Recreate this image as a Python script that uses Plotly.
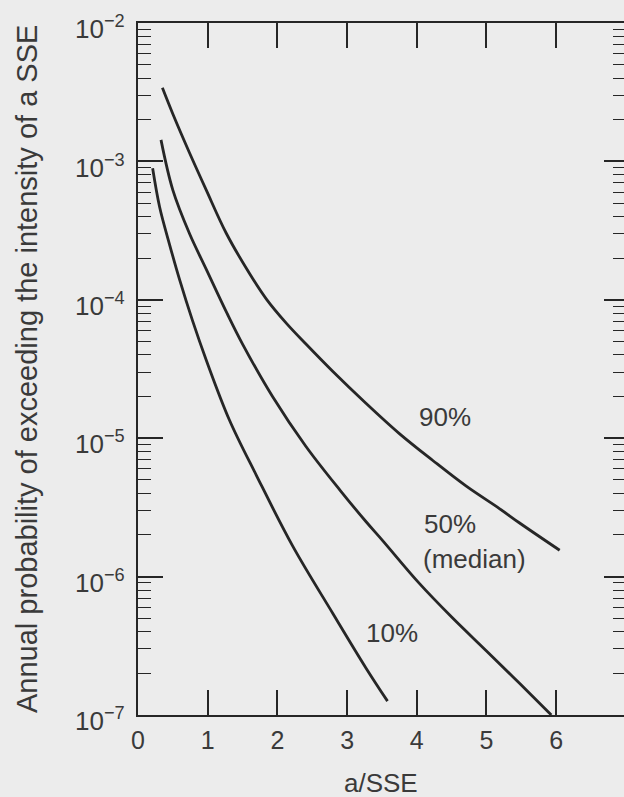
import plotly.graph_objects as go

# ---- data ----
x_90 = [0.35, 0.50, 0.74, 0.98, 1.27, 1.60, 1.85, 2.13, 2.41, 2.80, 3.27, 3.75, 4.23, 4.71, 5.19, 5.47, 6.05]
y_90 = [3.4e-3, 2.2e-3, 1.15e-3, 6.2e-4, 3.0e-4, 1.55e-4, 1.0e-4, 6.76e-5, 4.79e-5, 3.02e-5, 1.79e-5,
        1.08e-5, 6.9e-6, 4.5e-6, 3.09e-6, 2.45e-6, 1.55e-6]

x_50 = [0.33, 0.50, 0.74, 0.98, 1.28, 1.50, 1.93, 2.41, 2.90, 3.27, 3.51, 4.03, 4.50, 5.00, 5.47, 5.93]
y_50 = [1.43e-3, 6.2e-4, 3.0e-4, 1.66e-4, 7.94e-5, 4.79e-5, 2.0e-5, 8.71e-6, 4.2e-6, 2.5e-6, 1.82e-6,
        9.0e-7, 5.1e-7, 2.9e-7, 1.7e-7, 1.0e-7]

x_10 = [0.21, 0.31, 0.45, 0.60, 0.78, 0.98, 1.31, 1.70, 2.22, 2.80, 3.27, 3.58]
y_10 = [8.91e-4, 4.68e-4, 2.54e-4, 1.38e-4, 7.13e-5, 3.66e-5, 1.36e-5, 5.37e-6, 1.66e-6, 5.37e-7, 2.19e-7, 1.26e-7]

x_ticks = [0, 1, 2, 3, 4, 5, 6, 7]
y_ticks = [1e-7, 1e-6, 1e-5, 1e-4, 1e-3, 1e-2]
y_ticktext = ["10<sup>\u22127</sup>", "10<sup>\u22126</sup>", "10<sup>\u22125</sup>",
              "10<sup>\u22124</sup>", "10<sup>\u22123</sup>", "10<sup>\u22122</sup>"]
y_minor = [m * d for d in y_ticks[:-1] for m in range(2, 10)]

# label texts and their positions (x in data units, y in log10 units)
label_text = ["90%", "50%", "(median)", "10%"]
label_x = [4.405, 4.07, 4.06, 3.644]
label_logy = [-4.847, -5.62, -5.873, -6.408]
label_anchor = ["center", "left", "left", "center"]

FONT = "Liberation Sans, Arial, Helvetica, sans-serif"
INK = "#262626"
TXT = "#3a3a3a"
BG = "#ececec"

fig = go.Figure()
for xs, ys in [(x_90, y_90), (x_50, y_50), (x_10, y_10)]:
    fig.add_trace(go.Scatter(x=xs, y=ys, mode="lines",
                             line=dict(color=INK, width=2.8, shape="spline", smoothing=1.0),
                             showlegend=False, hoverinfo="skip"))
# helper trace so the right-hand tick axis is drawn
fig.add_trace(go.Scatter(x=[], y=[], yaxis="y2", showlegend=False, hoverinfo="skip"))

for t, xv, yv, anc in zip(label_text, label_x, label_logy, label_anchor):
    fig.add_annotation(x=xv, y=yv, xref="x", yref="y", text=t, showarrow=False,
                       xanchor=anc, yanchor="middle", font=dict(family=FONT, size=26, color=TXT))

fig.add_annotation(x=-0.2284, y=0.5, xref="paper", yref="paper", textangle=-90,
                   text="Annual probability of exceeding the intensity of a SSE",
                   showarrow=False, xanchor="center", yanchor="middle",
                   font=dict(family=FONT, size=29, color=TXT))
fig.add_annotation(x=0.5, y=-0.098, xref="paper", yref="paper", text="a/SSE",
                   showarrow=False, xanchor="center", yanchor="middle",
                   font=dict(family=FONT, size=26, color=TXT))

fig.update_layout(
    width=624, height=797,
    margin=dict(l=138, r=0, t=23, b=82, pad=0),
    paper_bgcolor=BG, plot_bgcolor=BG,
    font=dict(family=FONT, size=24, color=TXT),
    xaxis=dict(range=[0, 6.973], tickvals=x_ticks, ticktext=[str(v) for v in x_ticks],
               ticks="inside", ticklen=25, tickwidth=1.6, tickcolor=INK,
               showline=True, linewidth=2.2, linecolor=INK, mirror="ticks",
               showgrid=False, zeroline=False, ticklabelstandoff=2,
               tickfont=dict(family=FONT, size=25, color=TXT)),
    yaxis=dict(type="log", range=[-7, -2], tickvals=y_ticks, ticktext=y_ticktext,
               ticks="inside", ticklen=25, tickwidth=1.6, tickcolor=INK,
               showline=True, linewidth=2.2, linecolor=INK,
               showgrid=False, zeroline=False, ticklabelstandoff=6, ticklabelshift=6,
               minor=dict(tickvals=y_minor, ticks="inside", ticklen=13, tickwidth=1.4,
                          tickcolor=INK, showgrid=False),
               tickfont=dict(family=FONT, size=26, color=TXT)),
    yaxis2=dict(type="log", range=[-7, -2], overlaying="y", side="right", tickvals=y_ticks,
                showticklabels=False, ticks="inside", ticklen=20, tickwidth=1.6, tickcolor=INK,
                showline=False, showgrid=False, zeroline=False,
                minor=dict(tickvals=y_minor, ticks="inside", ticklen=11, tickwidth=1.4,
                           tickcolor=INK, showgrid=False)),
)

fig.write_html("out.html", config={"displayModeBar": False},
               post_script="document.body.style.margin='0';document.body.style.overflow='hidden';")
